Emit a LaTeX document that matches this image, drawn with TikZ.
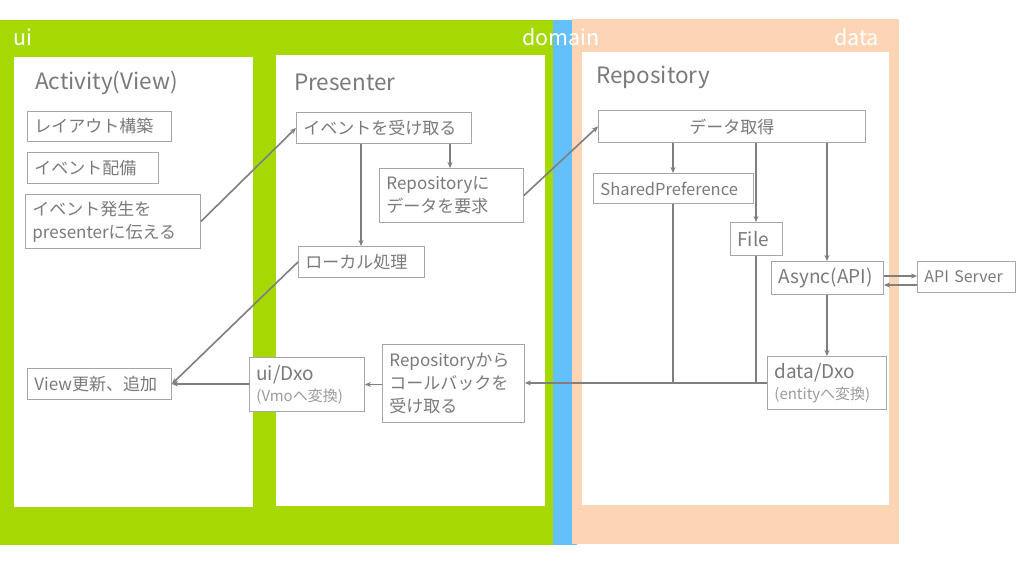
\documentclass[tikz,border=0pt]{standalone}
\usepackage{fontspec}
\setmainfont{Noto Sans CJK JP}
\usetikzlibrary{arrows.meta}
\definecolor{uigreen}{HTML}{A6D904}
\definecolor{domblue}{HTML}{63C0FA}
\definecolor{datapeach}{HTML}{FDD5B4}
\definecolor{linegray}{HTML}{7F7F7F}
\definecolor{bordergray}{HTML}{A6A6A6}
\definecolor{textgray}{HTML}{7A7A7A}
\definecolor{lightgray}{HTML}{9C9C9C}
\begin{document}
\begin{tikzpicture}[x=1pt,y=-1pt,
  lbl/.style={draw=bordergray, line width=0.9pt, fill=white, text=textgray, anchor=north west,
    inner xsep=7pt, inner ysep=1pt, align=left, font=\fontsize{17}{23}\selectfont},
  panel/.style={fill=white, draw=none, anchor=north west, inner sep=0pt},
  ptitle/.style={text=textgray, anchor=west, inner sep=0pt, font=\fontsize{22.5}{26}\selectfont},
  layer/.style={text=white, inner sep=0pt, font=\fontsize{21.5}{24}\selectfont},
  conn/.style={draw=linegray, line width=1.6pt, -{Stealth[length=6pt,width=5pt]}},
  plain/.style={draw=linegray, line width=1.6pt}
]
\useasboundingbox (0,0) rectangle (1024,576);
\fill[white] (0,0) rectangle (1024,576);
% layers
\fill[uigreen] (0,20) rectangle (553,545);
\fill[domblue] (553,20) rectangle (577,545);
\fill[datapeach] (572,19) rectangle (899,544);
\node[layer, anchor=west] (lui) at (13,37) {ui};
\node[layer] (ldom) at (561,37) {domain};
\node[layer, anchor=east] (ldata) at (879,37) {data};
% panels
\node[panel, minimum width=239pt, minimum height=450pt] (pact) at (14,57) {};
\node[panel, minimum width=269pt, minimum height=451pt] (ppre) at (276,55) {};
\node[panel, minimum width=307pt, minimum height=453pt] (prep) at (582,52) {};
\node[ptitle] (tact) at (35,83) {Activity(View)};
\node[ptitle] (tpre) at (294,82) {Presenter};
\node[ptitle] (trep) at (596,77) {Repository};
% Activity boxes
\node[lbl, text width=130pt, minimum height=30pt] (layout) at (27,111) {レイアウト構築};
\node[lbl, text width=117pt, minimum height=31pt] (evset) at (27,152) {イベント配備};
\node[lbl, text width=161pt, minimum height=54pt] (evfire) at (25,194) {イベント発生を\\presenterに伝える};
\node[lbl, text width=130pt, minimum height=31pt] (view) at (27,368) {View更新、追加};
% Presenter boxes
\node[lbl, text width=161pt, minimum height=31pt] (recv) at (296,112) {イベントを受け取る};
\node[lbl, text width=130pt, minimum height=54pt] (req) at (379,168) {Repositoryに\\データを要求};
\node[lbl, text width=112pt, minimum height=31pt] (local) at (298,246) {ローカル処理};
\node[lbl, text width=101pt, minimum height=54pt] (uidxo) at (249,357)
  {{\fontsize{19}{22}\selectfont ui/Dxo}\\[-2pt]{\color{lightgray}\fontsize{15}{17}\selectfont (Vmoへ変換)}};
\node[lbl, text width=128pt, minimum height=78pt] (cb) at (382,344) {Repositoryから\\コールバックを\\受け取る};
% Repository boxes
\node[lbl, text width=253pt, minimum height=32pt, align=center] (get) at (598,110) {データ取得};
\node[lbl, text width=146pt, minimum height=30pt, font=\fontsize{16.5}{19}\selectfont] (sp) at (593,173) {SharedPreference};
\node[lbl, text width=38pt, minimum height=33pt, font=\fontsize{19}{22}\selectfont] (file) at (730,222) {File};
\node[lbl, text width=98pt, minimum height=33pt, font=\fontsize{19}{22}\selectfont] (async) at (771,261) {Async(API)};
\node[lbl, text width=84pt, minimum height=31pt, font=\fontsize{16}{19}\selectfont] (api) at (917,261) {API Server};
\node[lbl, text width=105pt, minimum height=53pt] (ddxo) at (767,356)
  {{\fontsize{19}{22}\selectfont data/Dxo}\\[-2pt]{\color{lightgray}\fontsize{15}{17}\selectfont (entityへ変換)}};
% helper coordinates
\coordinate (xloc) at (361,0);
\coordinate (xreq) at (450,0);
\coordinate (xsp) at (673,0);
\coordinate (xfile) at (756,0);
\coordinate (xas) at (827,0);
\coordinate (ya) at (0,276);
\coordinate (yb) at (0,285);
% connectors
\draw[conn] (evfire.east) -- (recv.west);
\draw[conn] (local.west) -- (view.east);
\draw[conn] (recv.south -| xloc) -- (local.north -| xloc);
\draw[conn] (recv.south -| xreq) -- (req.north -| xreq);
\draw[conn] (req.east) -- (get.west);
\draw[conn] (get.south -| xsp) -- (sp.north -| xsp);
\draw[conn] (get.south -| xfile) -- (file.north -| xfile);
\draw[conn] (get.south -| xas) -- (async.north -| xas);
\draw[conn] (async.east |- ya) -- (api.west |- ya);
\draw[conn] (api.west |- yb) -- (async.east |- yb);
\draw[conn] (async.south -| xas) -- (ddxo.north -| xas);
\draw[plain] (sp.south -| xsp) -- (xsp |- ddxo.west);
\draw[plain] (file.south -| xfile) -- (xfile |- ddxo.west);
\draw[conn] (ddxo.west) -- (cb.east |- ddxo.west);
\draw[conn] (cb.west |- uidxo.east) -- (uidxo.east);
\draw[conn] (uidxo.west) -- (view.east -| uidxo.west) -- (view.east);
\end{tikzpicture}
\end{document}
